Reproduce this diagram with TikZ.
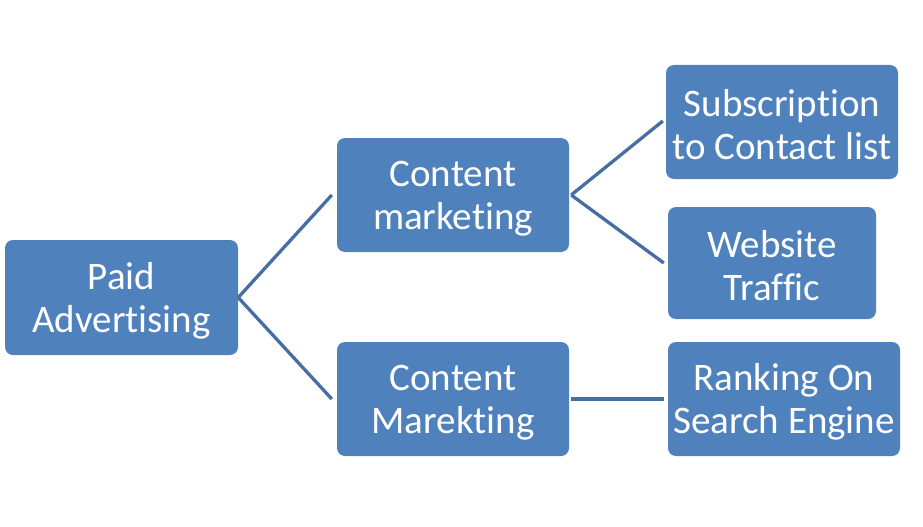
\documentclass[tikz,border=0pt]{standalone}
\usepackage{fontspec}
\setmainfont[Ligatures={NoCommon,NoRare}]{Carlito}
\definecolor{boxblue}{RGB}{79,129,189}
\definecolor{lineblue}{RGB}{70,110,162}
\newcommand{\lowerstrut}{\rule{0pt}{33pt}}
\tikzset{
  box/.style={fill=boxblue, rounded corners=8pt, inner sep=0pt, text=white, align=center,
    font=\fontsize{39}{43}\selectfont},
  conn/.style={draw=lineblue, line width=3.3pt}
}
\begin{document}
\begin{tikzpicture}[x=1pt,y=-1pt]
\useasboundingbox (0,0) rectangle (923,527);
\node[box, minimum width=233pt, minimum height=115pt] (pa) at (121.5,297.5) {\lowerstrut Paid\\Advertising};
\node[box, minimum width=232pt, minimum height=114pt] (cm) at (453,195) {\lowerstrut Content\\marketing};
\node[box, minimum width=232pt, minimum height=114pt] (cm2) at (453,399) {\lowerstrut Content\\Marekting};
\node[box, minimum width=232pt, minimum height=114pt] (sub) at (782,122) {\lowerstrut Subscription\\to Contact list};
\node[box, minimum width=208pt, minimum height=112pt] (web) at (772,263) {\lowerstrut Website\\Traffic};
\node[box, minimum width=232pt, minimum height=114pt] (rank) at (784,399) {\lowerstrut Ranking On\\Search Engine};
\draw[conn] (pa.east) -- ([xshift=-5pt]cm.west);
\draw[conn] (pa.east) -- ([xshift=-5pt]cm2.west);
\draw[conn] ([xshift=2pt]cm.east) -- ([xshift=-3pt,yshift=1pt]sub.west);
\draw[conn] ([xshift=2pt]cm.east) -- ([xshift=-4pt]web.west);
\draw[conn] ([xshift=2pt]cm2.east) -- ([xshift=-4pt]rank.west);
\end{tikzpicture}
\end{document}
